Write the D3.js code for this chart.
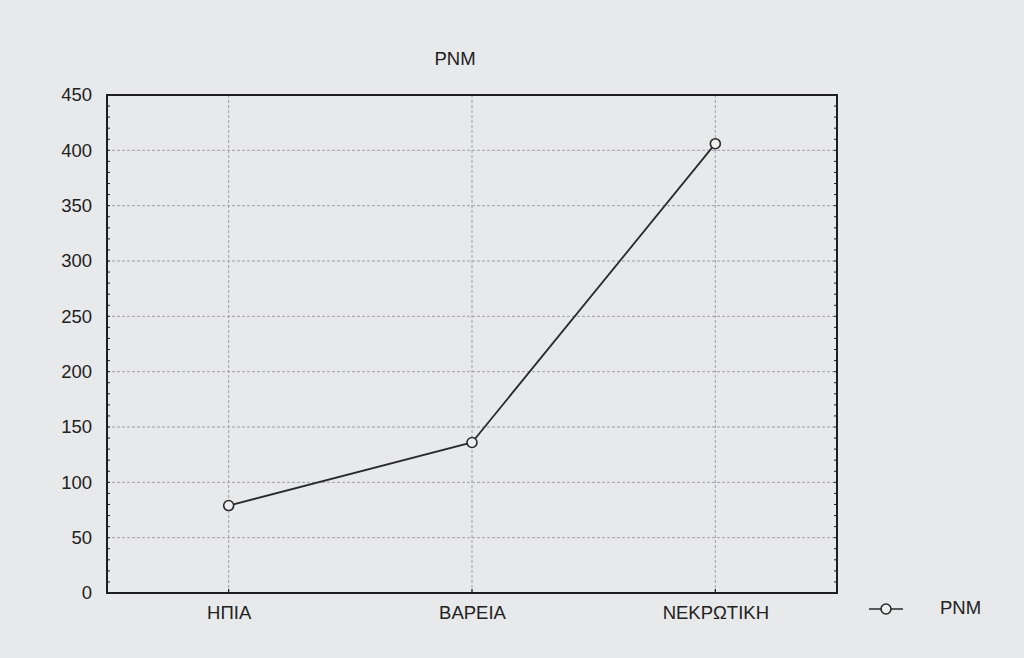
<!DOCTYPE html>
<html><head><meta charset="utf-8">
<script src="https://cdn.jsdelivr.net/npm/d3@7"></script>
<style>body{margin:0;background:#e8e9ea;}svg{display:block;}</style>
</head><body>
<script>
const categories = ["ΗΠΙΑ", "ΒΑΡΕΙΑ", "ΝΕΚΡΩΤΙΚΗ"];
const pnmValues = [79, 136, 406];
const yTicks = [0, 50, 100, 150, 200, 250, 300, 350, 400, 450];
const seriesName = "PNM";
const chartTitle = "PNM";

const W = 1024, H = 658;
const m = {left: 107, right: 837, top: 95, bottom: 593};
const FONT = "'Liberation Sans', Arial, sans-serif";
const FS = 18.5;
const svg = d3.select("body").append("svg").attr("width", W).attr("height", H)
  .style("font-family", FONT);

svg.append("rect").attr("width", W).attr("height", H).attr("fill", "#e8e9ea");

const x = d3.scalePoint().domain(categories).range([m.left, m.right]).padding(0.5);
const y = d3.scaleLinear().domain([0, 450]).range([m.bottom, m.top]);

// grid
const g = svg.append("g");
g.selectAll(".hg").data(yTicks.filter(t => t > 0 && t < 450)).enter().append("line")
  .attr("x1", m.left).attr("x2", m.right).attr("y1", d => y(d)).attr("y2", d => y(d))
  .attr("stroke", "#a39cab").attr("stroke-width", 1).attr("stroke-dasharray", "3,2");
g.selectAll(".vg").data(categories).enter().append("line")
  .attr("x1", d => x(d)).attr("x2", d => x(d)).attr("y1", m.top).attr("y2", m.bottom)
  .attr("stroke", "#a39cab").attr("stroke-width", 1).attr("stroke-dasharray", "3,2");

// frame
svg.append("rect").attr("x", m.left).attr("y", m.top).attr("width", m.right - m.left).attr("height", m.bottom - m.top)
  .attr("fill", "none").attr("stroke", "#1e1e22").attr("stroke-width", 2);

// minor ticks inward on left and right
const minor = d3.range(0, 451, 10);
svg.append("g").selectAll("line").data(minor).enter().append("line")
  .attr("x1", m.left).attr("x2", m.left + 3).attr("y1", d => y(d)).attr("y2", d => y(d))
  .attr("stroke", "#1e1e22").attr("stroke-width", 1);
svg.append("g").selectAll("line").data(minor).enter().append("line")
  .attr("x1", m.right).attr("x2", m.right - 3).attr("y1", d => y(d)).attr("y2", d => y(d))
  .attr("stroke", "#1e1e22").attr("stroke-width", 1);
// category ticks
svg.append("g").selectAll("line").data(categories).enter().append("line")
  .attr("x1", d => x(d)).attr("x2", d => x(d)).attr("y1", m.bottom).attr("y2", m.bottom - 4)
  .attr("stroke", "#1e1e22").attr("stroke-width", 1.2);

// y axis labels
const yAxis = d3.axisLeft(y).tickValues(yTicks).tickSize(0).tickPadding(15);
const ya = svg.append("g").attr("transform", `translate(${m.left},0)`).call(yAxis);
ya.select(".domain").remove();
ya.selectAll("text").attr("font-size", FS).attr("fill", "#222").style("font-family", FONT);

// x axis labels
const xAxis = d3.axisBottom(x).tickSize(0).tickPadding(13);
const xa = svg.append("g").attr("transform", `translate(0,${m.bottom})`).call(xAxis);
xa.select(".domain").remove();
xa.selectAll("text").attr("font-size", FS).attr("fill", "#222").style("font-family", FONT);

// line
const data = categories.map((c, i) => ({c, v: pnmValues[i]}));
svg.append("path").datum(data)
  .attr("d", d3.line().x(d => x(d.c)).y(d => y(d.v)))
  .attr("fill", "none").attr("stroke", "#2a2a2a").attr("stroke-width", 1.8);
svg.selectAll(".pt").data(data).enter().append("circle")
  .attr("cx", d => x(d.c)).attr("cy", d => y(d.v)).attr("r", 5)
  .attr("fill", "#eeeeee").attr("stroke", "#2a2a2a").attr("stroke-width", 1.6);

// title
svg.append("text").attr("x", 455).attr("y", 65).attr("text-anchor", "middle")
  .attr("font-size", FS).attr("fill", "#222").text(chartTitle);

// legend
const ly = 609;
svg.append("line").attr("x1", 869).attr("x2", 903).attr("y1", ly).attr("y2", ly)
  .attr("stroke", "#2a2a2a").attr("stroke-width", 1.6);
svg.append("circle").attr("cx", 886).attr("cy", ly).attr("r", 5)
  .attr("fill", "#eeeeee").attr("stroke", "#2a2a2a").attr("stroke-width", 1.6);
svg.append("text").attr("x", 940).attr("y", 614).attr("font-size", FS).attr("fill", "#222").text(seriesName);
</script>
</body></html>
